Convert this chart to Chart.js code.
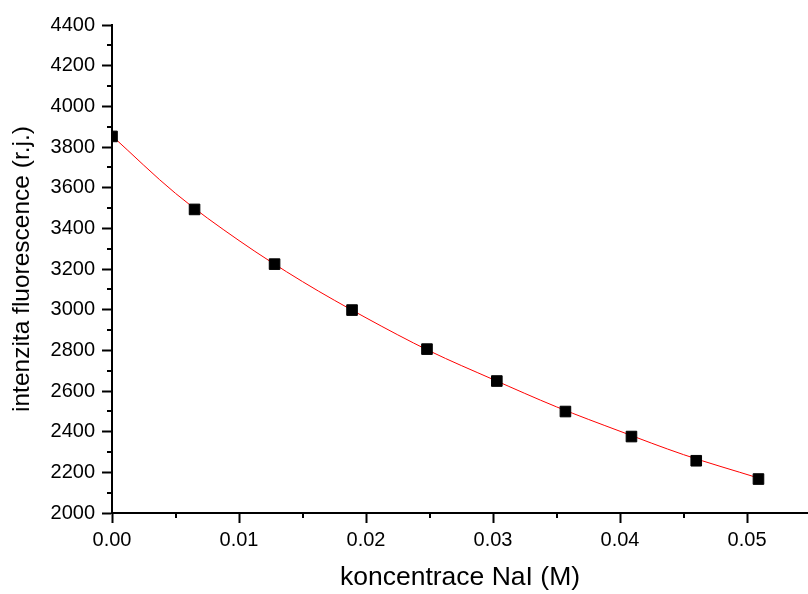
<!DOCTYPE html>
<html>
<head>
<meta charset="utf-8">
<script src="https://cdn.jsdelivr.net/npm/chart.js@4/dist/chart.umd.min.js"></script>
<style>
  html, body { margin: 0; padding: 0; background: #fff; }
  #wrap { width: 808px; height: 594px; }
</style>
</head>
<body>
<div id="wrap"><canvas id="chart" width="808" height="594"></canvas></div>
<script>
// measured points (NaI concentration vs fluorescence intensity)
const concentration = [0, 0.0065, 0.0128, 0.0189, 0.0248, 0.0303, 0.0357, 0.0409, 0.0460, 0.0509];
const intensity = [3852, 3493, 3224, 2998, 2806, 2649, 2499, 2376, 2257, 2167];

// red fitted curve
const fitX = [0, 0.005, 0.01, 0.015, 0.02, 0.025, 0.03, 0.035, 0.04, 0.045, 0.0509];
const fitY = [3855, 3572, 3340, 3138, 2960, 2797, 2657, 2522, 2402, 2287, 2172];

// axis ticks
const xMajor = [0, 0.01, 0.02, 0.03, 0.04, 0.05];
const xMinor = [0.005, 0.015, 0.025, 0.035, 0.045];
const yMajor = [2000, 2200, 2400, 2600, 2800, 3000, 3200, 3400, 3600, 3800, 4000, 4200, 4400];
const yMinor = [2100, 2300, 2500, 2700, 2900, 3100, 3300, 3500, 3700, 3900, 4100, 4300];

const FONT = '"Liberation Sans", Arial, sans-serif';

// short minor ticks on the outside of both axes
const minorTicks = {
    id: 'minorTicks',
    afterDraw(chart) {
        const ctx = chart.ctx;
        const xs = chart.scales.x;
        const ys = chart.scales.y;
        const area = chart.chartArea;
        ctx.save();
        ctx.strokeStyle = '#000';
        ctx.lineWidth = 2;
        ctx.beginPath();
        xMinor.forEach(v => {
            const px = Math.round(xs.getPixelForValue(v));
            ctx.moveTo(px, area.bottom);
            ctx.lineTo(px, area.bottom + 5);
        });
        yMinor.forEach(v => {
            const py = Math.round(ys.getPixelForValue(v));
            ctx.moveTo(area.left, py);
            ctx.lineTo(area.left - 5, py);
        });
        ctx.stroke();
        ctx.restore();
    }
};

new Chart(document.getElementById('chart'), {
    type: 'scatter',
    data: {
        datasets: [
            {
                label: 'fit',
                data: fitX.map((x, i) => ({ x: x, y: fitY[i] })),
                showLine: true,
                borderColor: '#ff0000',
                borderWidth: 1,
                pointRadius: 0,
                cubicInterpolationMode: 'monotone',
                order: 2
            },
            {
                label: 'data',
                data: concentration.map((x, i) => ({ x: x, y: intensity[i] })),
                pointStyle: 'rect',
                pointRadius: 7.5,
                backgroundColor: '#000',
                borderColor: '#000',
                borderWidth: 1,
                clip: 0,
                order: 1
            }
        ]
    },
    options: {
        responsive: false,
        animation: false,
        layout: { autoPadding: false, padding: { top: 25, right: 0, left: 0, bottom: 0 } },
        plugins: {
            legend: { display: false },
            tooltip: { enabled: false }
        },
        scales: {
            x: {
                type: 'linear',
                min: 0,
                max: 0.0548,
                afterBuildTicks: s => { s.ticks = xMajor.map(v => ({ value: v })); },
                afterFit: s => { s.height = 81; },
                border: { color: '#000', width: 2 },
                grid: { drawOnChartArea: false, tickLength: 10, tickWidth: 2, tickColor: '#000' },
                ticks: {
                    color: '#000',
                    font: { family: FONT, size: 20 },
                    padding: 5,
                    maxRotation: 0,
                    callback: v => v.toFixed(2)
                },
                title: {
                    display: true,
                    text: 'koncentrace NaI (M)',
                    color: '#000',
                    font: { family: FONT, size: 26.5 },
                    padding: { top: 2, bottom: 0 }
                }
            },
            y: {
                type: 'linear',
                min: 2000,
                max: 4400,
                afterBuildTicks: s => { s.ticks = yMajor.map(v => ({ value: v })); },
                afterFit: s => { s.width = 112; },
                border: { color: '#000', width: 2 },
                grid: { drawOnChartArea: false, tickLength: 10, tickWidth: 2, tickColor: '#000' },
                ticks: {
                    color: '#000',
                    font: { family: FONT, size: 20 },
                    padding: 7,
                    callback: v => String(v)
                },
                title: {
                    display: true,
                    text: 'intenzita fluorescence (r.j.)',
                    color: '#000',
                    font: { family: FONT, size: 24.5 },
                    padding: { top: 8, bottom: 0 }
                }
            }
        }
    },
    plugins: [minorTicks]
});
</script>
</body>
</html>
